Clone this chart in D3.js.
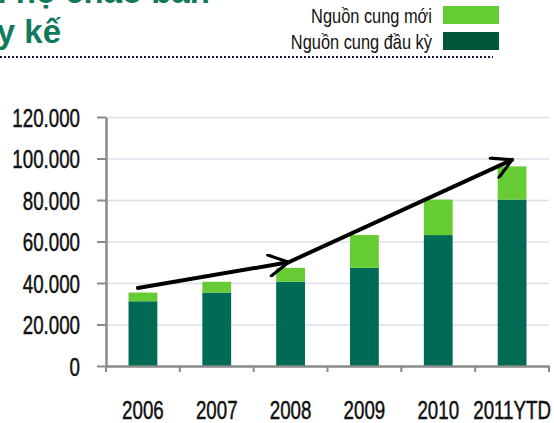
<!DOCTYPE html>
<html>
<head>
<meta charset="utf-8">
<script src="https://cdn.jsdelivr.net/npm/d3@7/dist/d3.min.js"></script>
<style>
  body { margin: 0; background: #fff; }
  svg { display: block; }
</style>
</head>
<body>
<svg id="chart"></svg>
<script>
const years = ['2006', '2007', '2008', '2009', '2010', '2011YTD']
const openingSupply = [31200, 35400, 40600, 47300, 63100, 80200]
const newSupply = [4200, 5200, 6700, 15800, 17100, 16000]
const yTicks = [0, 20000, 40000, 60000, 80000, 100000, 120000]
const seriesNames = ['Nguồn cung mới', 'Nguồn cung đầu kỳ']
// trend arrow drawn over the bars: category + value (+ small nudge in px)
const trendPoints = [
  { year: '2006', value: 37600, dx: -5 },
  { year: '2008', value: 50000, dx: -2 },
  { year: '2011YTD', value: 99400, dx: 0 }
]

const width = 554; const height = 423
const font = "'Liberation Sans', Arial, sans-serif"
const squeeze = 0.72 // condensed look for the axis labels
const darkGreen = '#006b54'
const lightGreen = '#66cc33'

const svg = d3.select('#chart').attr('width', width).attr('height', height)

const x = d3.scaleBand().domain(years).range([106, 549]).paddingInner(0.61).paddingOuter(0.305)
const y = d3.scaleLinear().domain([0, 120000]).range([366, 117])

// title (clipped by the top/left edge like the source slide)
svg.append('text')
  .attr('x', 210).attr('y', 3)
  .attr('text-anchor', 'end')
  .attr('font-family', font)
  .attr('font-weight', 'bold').attr('font-size', 33)
  .attr('fill', '#127a5c')
  .text('Nguồn cung căn hộ chào bán')
svg.append('text')
  .attr('x', 61).attr('y', 43)
  .attr('text-anchor', 'end')
  .attr('font-family', font)
  .attr('font-weight', 'bold').attr('font-size', 33)
  .attr('fill', '#127a5c')
  .text('lũy kế')

svg.append('line')
  .attr('x1', 0).attr('x2', 493).attr('y1', 57).attr('y2', 57)
  .attr('stroke', '#1b1b33').attr('stroke-width', 2)
  .attr('stroke-dasharray', '2,2')

// legend
const legendColors = [lightGreen, '#02573a']
seriesNames.forEach((name, i) => {
  const g = svg.append('g').attr('transform', `translate(0, ${i * 26})`)
  g.append('rect').attr('x', 443).attr('y', 6).attr('width', 56).attr('height', 18)
    .attr('fill', legendColors[i])
  g.append('text')
    .attr('transform', 'translate(432,23) scale(0.82,1)')
    .attr('text-anchor', 'end')
    .attr('font-family', font).attr('font-size', 20)
    .attr('fill', '#111')
    .text(name)
})

// gridlines
svg.append('g').selectAll('line').data(yTicks.slice(1)).enter()
  .append('line')
  .attr('x1', 106).attr('x2', 549)
  .attr('y1', d => y(d) + 0.5).attr('y2', d => y(d) + 0.5)
  .attr('stroke', '#dde0ec').attr('stroke-width', 1.5)

// stacked bars
const rows = years.map((yr, i) => ({ year: yr, base: openingSupply[i], add: newSupply[i] }))
const stack = d3.stack().keys(['base', 'add'])(rows)
const fills = [darkGreen, lightGreen]
svg.append('g').selectAll('g').data(stack).enter()
  .append('g').attr('fill', (d, i) => fills[i])
  .selectAll('rect').data(d => d).enter()
  .append('rect')
  .attr('x', d => x(d.data.year))
  .attr('width', x.bandwidth())
  .attr('y', d => y(d[1]))
  .attr('height', d => y(d[0]) - y(d[1]))

// axes
const yAxis = svg.append('g').attr('transform', 'translate(106,0)')
  .call(d3.axisLeft(y).tickValues(yTicks).tickSize(9).tickSizeOuter(0)
    .tickFormat(d => d3.format(',')(d).replace(/,/g, '.')))
const xAxis = svg.append('g').attr('transform', 'translate(0,366)')
  .call(d3.axisBottom(x).tickSize(0).tickSizeOuter(0))

// tick marks on the category boundaries
const edges = [106].concat(years.map(yr => x(yr) + x.bandwidth() + x.step() * x.paddingInner() / 2))
svg.append('g').selectAll('line').data(edges).enter()
  .append('line')
  .attr('x1', d => d).attr('x2', d => d)
  .attr('y1', 366).attr('y2', 372)
  .attr('stroke', '#8a8a8a').attr('stroke-width', 2)

;[yAxis, xAxis].forEach(a => {
  a.select('.domain').attr('stroke', '#8a8a8a').attr('stroke-width', 2.5)
  a.selectAll('.tick line').attr('stroke', '#8a8a8a').attr('stroke-width', 2)
  a.selectAll('text').attr('font-family', font).attr('font-size', 26)
    .attr('fill', '#111').attr('stroke', '#111').attr('stroke-width', 0.5)
})
yAxis.selectAll('text')
  .attr('x', 0).attr('dy', '0.36em')
  .attr('transform', `translate(-26,0) scale(${squeeze},1)`)
xAxis.selectAll('text')
  .attr('y', 0).attr('dy', 53)
  .attr('transform', `scale(${squeeze},1)`)

// trend arrow
const pts = trendPoints.map(p => [x(p.year) + x.bandwidth() / 2 + p.dx, y(p.value)])
svg.append('defs').append('marker')
  .attr('id', 'head').attr('viewBox', '0 0 12 12')
  .attr('refX', 11).attr('refY', 6)
  .attr('markerWidth', 5.8).attr('markerHeight', 5.8)
  .attr('markerUnits', 'strokeWidth')
  .attr('orient', 'auto')
  .append('path').attr('d', 'M1,0.5 L11,6 L1,11.5')
  .attr('fill', 'none').attr('stroke', '#000').attr('stroke-width', 1.6)
  .attr('stroke-linecap', 'round').attr('stroke-linejoin', 'round')
for (let i = 0; i < pts.length - 1; i++) {
  svg.append('line')
    .attr('x1', pts[i][0]).attr('y1', pts[i][1])
    .attr('x2', pts[i + 1][0]).attr('y2', pts[i + 1][1])
    .attr('stroke', '#000').attr('stroke-width', 4)
    .attr('stroke-linecap', 'round')
    .attr('marker-end', 'url(#head)')
}
</script>
</body>
</html>
